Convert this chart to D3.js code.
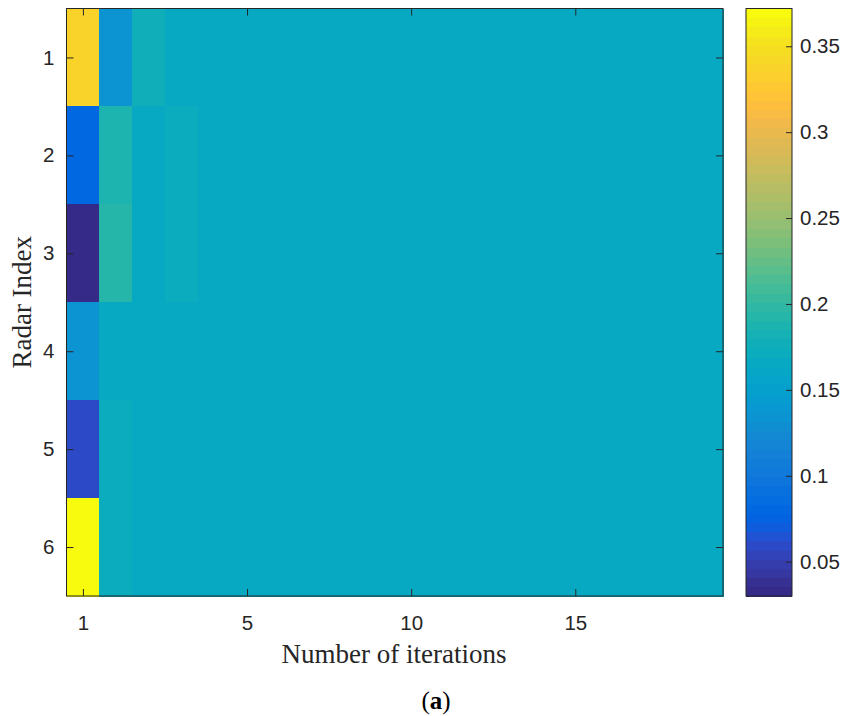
<!DOCTYPE html>
<html>
<head>
  <meta charset="utf-8">
  <title>Radar weights per iteration</title>
  <style>
    body { margin: 0; background: #fff; }
    svg text { fill: #262626; }
  </style>
</head>
<body>
  <div class="chart-container"></div>
  <script src="https://cdn.jsdelivr.net/npm/d3@7"></script>
  <script>
    // data: weight of each radar at every iteration (20 columns)
    var radars = [1, 2, 3, 4, 5, 6];
    var xTickPos = [0, 5, 10, 15];
    var xTickLabels = ['1', '5', '10', '15'];
    var cbarTicks = [0.05, 0.1, 0.15, 0.2, 0.25, 0.3, 0.35];

    var radar1 = [0.337, 0.135, 0.178, 0.1667, 0.1667, 0.1667, 0.1667, 0.1667, 0.1667, 0.1667, 0.1667, 0.1667, 0.1667, 0.1667, 0.1667, 0.1667, 0.1667, 0.1667, 0.1667, 0.1667];
    var radar2 = [0.082, 0.189, 0.164, 0.172, 0.1667, 0.1667, 0.1667, 0.1667, 0.1667, 0.1667, 0.1667, 0.1667, 0.1667, 0.1667, 0.1667, 0.1667, 0.1667, 0.1667, 0.1667, 0.1667];
    var radar3 = [0.030, 0.192, 0.164, 0.172, 0.1667, 0.1667, 0.1667, 0.1667, 0.1667, 0.1667, 0.1667, 0.1667, 0.1667, 0.1667, 0.1667, 0.1667, 0.1667, 0.1667, 0.1667, 0.1667];
    var radar4 = [0.132, 0.1667, 0.1667, 0.1667, 0.1667, 0.1667, 0.1667, 0.1667, 0.1667, 0.1667, 0.1667, 0.1667, 0.1667, 0.1667, 0.1667, 0.1667, 0.1667, 0.1667, 0.1667, 0.1667];
    var radar5 = [0.059, 0.172, 0.1667, 0.1667, 0.1667, 0.1667, 0.1667, 0.1667, 0.1667, 0.1667, 0.1667, 0.1667, 0.1667, 0.1667, 0.1667, 0.1667, 0.1667, 0.1667, 0.1667, 0.1667];
    var radar6 = [0.372, 0.172, 0.1667, 0.1667, 0.1667, 0.1667, 0.1667, 0.1667, 0.1667, 0.1667, 0.1667, 0.1667, 0.1667, 0.1667, 0.1667, 0.1667, 0.1667, 0.1667, 0.1667, 0.1667];
    var rows = [radar1, radar2, radar3, radar4, radar5, radar6];

    // MATLAB parula(64)
    var parula = [
      [0.2081,0.1663,0.5292],[0.2116,0.1898,0.5777],[0.2123,0.2138,0.6270],[0.2081,0.2386,0.6771],
      [0.1959,0.2645,0.7279],[0.1707,0.2919,0.7792],[0.1253,0.3242,0.8303],[0.0591,0.3598,0.8683],
      [0.0117,0.3875,0.8820],[0.0060,0.4086,0.8828],[0.0165,0.4266,0.8786],[0.0329,0.4430,0.8720],
      [0.0498,0.4586,0.8641],[0.0629,0.4737,0.8554],[0.0723,0.4887,0.8467],[0.0779,0.5040,0.8384],
      [0.0793,0.5200,0.8312],[0.0749,0.5375,0.8263],[0.0641,0.5570,0.8240],[0.0488,0.5772,0.8228],
      [0.0343,0.5966,0.8199],[0.0265,0.6137,0.8135],[0.0239,0.6287,0.8038],[0.0231,0.6418,0.7913],
      [0.0228,0.6535,0.7768],[0.0267,0.6642,0.7607],[0.0384,0.6743,0.7436],[0.0590,0.6838,0.7254],
      [0.0843,0.6928,0.7062],[0.1133,0.7015,0.6859],[0.1453,0.7098,0.6646],[0.1801,0.7177,0.6424],
      [0.2178,0.7250,0.6193],[0.2586,0.7317,0.5954],[0.3022,0.7376,0.5712],[0.3482,0.7424,0.5473],
      [0.3953,0.7459,0.5244],[0.4420,0.7481,0.5033],[0.4871,0.7491,0.4840],[0.5300,0.7491,0.4661],
      [0.5709,0.7485,0.4494],[0.6099,0.7473,0.4337],[0.6473,0.7456,0.4188],[0.6834,0.7435,0.4044],
      [0.7184,0.7411,0.3905],[0.7525,0.7384,0.3768],[0.7858,0.7356,0.3633],[0.8185,0.7327,0.3498],
      [0.8507,0.7299,0.3360],[0.8824,0.7274,0.3217],[0.9139,0.7258,0.3063],[0.9450,0.7261,0.2886],
      [0.9739,0.7314,0.2666],[0.9938,0.7455,0.2403],[0.9990,0.7653,0.2164],[0.9955,0.7861,0.1967],
      [0.9880,0.8066,0.1794],[0.9789,0.8271,0.1633],[0.9697,0.8481,0.1475],[0.9626,0.8705,0.1309],
      [0.9589,0.8949,0.1132],[0.9598,0.9218,0.0948],[0.9661,0.9514,0.0755],[0.9763,0.9831,0.0538]
    ].map(function (c) { return d3.rgb(c[0] * 255, c[1] * 255, c[2] * 255).formatHex(); });

    var width = 845, height = 716;
    var plot = { left: 66.5, right: 723, top: 8.5, bottom: 596 };
    var cbar = { left: 746, right: 792 };
    var axisColor = '#262626';
    var sansFont = '"Liberation Sans", Arial, sans-serif';
    var serifFont = '"Liberation Serif", "Times New Roman", serif';

    var cells = [];
    rows.forEach(function (vals, r) {
      vals.forEach(function (v, c) { cells.push({ radar: radars[r], col: c, v: v }); });
    });
    var cMin = d3.min(cells, function (d) { return d.v; });
    var cMax = d3.max(cells, function (d) { return d.v; });

    var x = d3.scaleLinear().domain([-0.5, radar1.length - 0.5]).range([plot.left, plot.right]);
    var y = d3.scaleLinear().domain([0.5, radars.length + 0.5]).range([plot.top, plot.bottom]);
    var color = d3.scaleQuantize().domain([cMin, cMax]).range(parula);
    var yc = d3.scaleLinear().domain([cMin, cMax]).range([plot.bottom, plot.top]);

    var svg = d3.select('.chart-container').append('svg')
      .attr('width', width)
      .attr('height', height)
      .style('display', 'block');

    // heatmap cells
    svg.append('g').attr('class', 'cells')
      .selectAll('rect')
      .data(cells)
      .enter().append('rect')
      .attr('x', function (d) { return x(d.col - 0.5); })
      .attr('y', function (d) { return y(d.radar - 0.5); })
      .attr('width', function (d) { return x(d.col + 0.5) - x(d.col - 0.5) + 0.5; })
      .attr('height', function (d) { return y(d.radar + 0.5) - y(d.radar - 0.5) + 0.5; })
      .attr('fill', function (d) { return color(d.v); })
      .attr('shape-rendering', 'crispEdges');

    function styleAxis(g) {
      g.select('.domain').remove();
      g.selectAll('line').attr('stroke', axisColor);
      g.selectAll('text')
        .style('font-family', sansFont)
        .style('font-size', '20.5px')
        .attr('fill', axisColor);
    }

    var fmtX = function (d) { return xTickLabels[xTickPos.indexOf(d)]; };

    svg.append('g')
      .attr('transform', 'translate(0,' + plot.bottom + ')')
      .call(d3.axisBottom(x).tickValues(xTickPos).tickFormat(fmtX).tickSize(-7).tickPadding(19.5))
      .call(styleAxis);
    svg.append('g')
      .attr('transform', 'translate(0,' + plot.top + ')')
      .call(d3.axisTop(x).tickValues(xTickPos).tickFormat('').tickSize(-7))
      .call(styleAxis);
    svg.append('g')
      .attr('transform', 'translate(' + plot.left + ',0)')
      .call(d3.axisLeft(y).tickValues(radars).tickFormat(d3.format('d')).tickSize(-7).tickPadding(12))
      .call(styleAxis);
    svg.append('g')
      .attr('transform', 'translate(' + plot.right + ',0)')
      .call(d3.axisRight(y).tickValues(radars).tickFormat('').tickSize(-7))
      .call(styleAxis);

    svg.append('rect')
      .attr('x', plot.left).attr('y', plot.top)
      .attr('width', plot.right - plot.left).attr('height', plot.bottom - plot.top)
      .attr('fill', 'none').attr('stroke', axisColor).attr('stroke-width', 1);

    // colorbar
    var bands = parula.map(function (c, i) {
      return { c: c, v0: cMin + (cMax - cMin) * i / parula.length, v1: cMin + (cMax - cMin) * (i + 1) / parula.length };
    });
    svg.append('g').attr('class', 'colorbar')
      .selectAll('rect')
      .data(bands)
      .enter().append('rect')
      .attr('x', cbar.left)
      .attr('y', function (d) { return yc(d.v1); })
      .attr('width', cbar.right - cbar.left)
      .attr('height', function (d) { return yc(d.v0) - yc(d.v1) + 0.5; })
      .attr('fill', function (d) { return d.c; })
      .attr('shape-rendering', 'crispEdges');

    svg.append('g')
      .attr('transform', 'translate(' + cbar.right + ',0)')
      .call(d3.axisRight(yc).tickValues(cbarTicks).tickFormat(d3.format('')).tickSize(-6).tickPadding(8))
      .call(styleAxis);

    svg.append('rect')
      .attr('x', cbar.left).attr('y', plot.top)
      .attr('width', cbar.right - cbar.left).attr('height', plot.bottom - plot.top)
      .attr('fill', 'none').attr('stroke', axisColor).attr('stroke-width', 1);

    // labels
    svg.append('text')
      .attr('x', 394)
      .attr('y', 663)
      .attr('text-anchor', 'middle')
      .style('font-family', serifFont)
      .style('font-size', '27px')
      .text('Number of iterations');

    svg.append('text')
      .attr('transform', 'translate(31,' + ((plot.top + plot.bottom) / 2) + ') rotate(-90)')
      .attr('text-anchor', 'middle')
      .style('font-family', serifFont)
      .style('font-size', '27px')
      .text('Radar Index');

    var cap = svg.append('text')
      .attr('x', 436)
      .attr('y', 709)
      .attr('text-anchor', 'middle')
      .style('font-family', serifFont)
      .style('font-size', '25px')
      .style('fill', '#000');
    cap.append('tspan').text('(');
    cap.append('tspan').style('font-weight', 'bold').text('a');
    cap.append('tspan').text(')');
  </script>
</body>
</html>
